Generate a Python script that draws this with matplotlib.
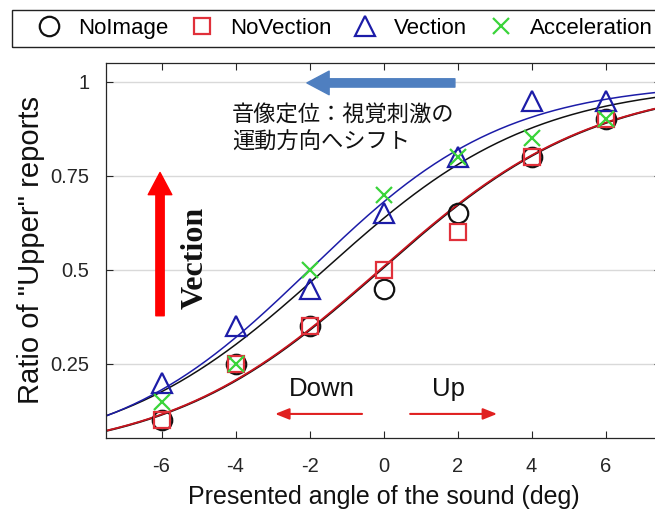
import numpy as np
import matplotlib
matplotlib.use("Agg")
import matplotlib.pyplot as plt
import matplotlib.patches as mpatches
from matplotlib.lines import Line2D

# Presented sound angle (deg) and ratio of "Upper" reports per condition
angles = [-6, -4, -2, 0, 2, 4, 6]
no_image = [0.10, 0.25, 0.35, 0.45, 0.65, 0.80, 0.90]
no_vection = [0.10, 0.25, 0.35, 0.50, 0.60, 0.80, 0.90]
vection = [0.20, 0.35, 0.45, 0.65, 0.80, 0.95, 0.95]
acceleration = [0.15, 0.25, 0.50, 0.70, 0.80, 0.85, 0.90]

# Fitted psychometric curves (logistic): centre and slope
fit_no_image = (-0.07, 2.9)
fit_no_vection = (-0.1, 2.9)
fit_vection = (-2.0, 2.65)
fit_acceleration = (-1.6, 2.85)

yticks = [0.25, 0.5, 0.75, 1]
ytick_labels = ["0.25", "0.5", "0.75", "1"]

plt.rcParams['font.family'] = ['Liberation Sans', 'DejaVu Sans']

BLACK = '#111111'
RED = '#e0303a'
RED_LINE = '#c8141e'
BLUE = '#1c1ca8'
GREEN = '#3ad43a'


def logistic(x, mu, s):
    return 1.0 / (1.0 + np.exp(-(x - mu) / s))


fig = plt.figure(figsize=(6.55, 5.12), dpi=100)
ax = fig.add_axes([106 / 655, 74 / 512, 555 / 655, 375 / 512])

# Fitted curves
xs = np.linspace(-7.5, 7.5, 300)
ax.plot(xs, logistic(xs, *fit_no_image), color=BLACK, lw=1.4, zorder=2)
ax.plot(xs, logistic(xs, *fit_no_vection), color=RED_LINE, lw=1.3, zorder=2)
ax.plot(xs, logistic(xs, *fit_acceleration), color=BLACK, lw=1.1, zorder=2)
ax.plot(xs, logistic(xs, *fit_vection), color=BLUE, lw=1.1, zorder=2)

# Observed data
mk = dict(linestyle='none', markerfacecolor='none', markeredgewidth=1.6, zorder=3)
ax.plot(angles, no_image, marker='o', markersize=14, markeredgecolor=BLACK, **mk)
ax.plot(angles, no_vection, marker='s', markersize=12, markeredgecolor=RED, **mk)
ax.plot(angles, vection, marker='^', markersize=15, markeredgecolor=BLUE, **mk)
ax.plot(angles, acceleration, marker='x', markersize=11, markeredgecolor=GREEN, **mk)

ax.set_xlim(-7.5, 7.5)
ax.set_ylim(0.053, 1.05)
ax.set_xticks(angles)
ax.set_xticklabels([str(a) for a in angles])
ax.set_yticks(yticks)
ax.set_yticklabels(ytick_labels)
ax.yaxis.grid(True, color='#d9d9d9', lw=1.0)
ax.set_axisbelow(True)
ax.tick_params(direction='in', top=True, right=True, length=5, width=0.8,
               labelsize=14.5, colors='#262626')
ax.tick_params(axis='x', pad=14)
ax.tick_params(axis='y', pad=12)
for sp in ax.spines.values():
    sp.set_color('#262626')
    sp.set_linewidth(0.9)

ax.set_xlabel('Presented angle of the sound (deg)', fontsize=18, color='#111111', labelpad=6)
ax.set_ylabel('Ratio of "Upper" reports', fontsize=21, color='#111111', labelpad=4)

# Blue shift arrow and Japanese caption
ax.annotate('', xy=(-2.07, 0.997), xytext=(1.93, 0.997),
            arrowprops=dict(arrowstyle='simple,head_length=16,head_width=17,tail_width=6',
                            mutation_scale=1, color='#4f7fc0', shrinkA=0, shrinkB=0))
ax.text(-4.1, 0.875, '音像定位：視覚刺激の\n運動方向へシフト', fontsize=16,
        family=['Noto Sans CJK JP', 'DejaVu Sans'], ha='left', va='center',
        linespacing=1.2, color='#111111')

# Red vection arrow
ax.annotate('', xy=(-6.04, 0.759), xytext=(-6.04, 0.378),
            arrowprops=dict(arrowstyle='simple,head_length=16,head_width=17,tail_width=6',
                            mutation_scale=1, color='#ff0000', shrinkA=0, shrinkB=0))
ax.text(-5.09, 0.533, 'Vection', rotation=90, fontsize=23, fontweight='bold',
        family=['Liberation Serif', 'DejaVu Serif'], ha='center', va='center', color='#111111')

# Down / Up labels
ax.text(-1.66, 0.183, 'Down', fontsize=18.5, ha='center', va='center', color='#111111')
ax.text(1.77, 0.183, 'Up', fontsize=18.5, ha='center', va='center', color='#111111')
small = dict(arrowstyle='-|>,head_length=0.7,head_width=0.28', mutation_scale=12,
             color='#e02020', lw=1.5, shrinkA=0, shrinkB=0)
ax.annotate('', xy=(-2.93, 0.117), xytext=(-0.58, 0.117), arrowprops=small)
ax.annotate('', xy=(3.07, 0.117), xytext=(0.72, 0.117), arrowprops=small)

# Legend strip at the top
fig.patches.append(mpatches.Rectangle((12 / 655, 1 - 47 / 512), 700 / 655, 37 / 512,
                                      transform=fig.transFigure, fill=False,
                                      edgecolor='#222222', lw=1.0))
handles = [
    Line2D([], [], marker='o', markersize=14, markeredgecolor=BLACK, **mk),
    Line2D([], [], marker='s', markersize=12, markeredgecolor=RED, **mk),
    Line2D([], [], marker='^', markersize=15, markeredgecolor=BLUE, **mk),
    Line2D([], [], marker='x', markersize=11, markeredgecolor=GREEN, **mk),
]
labels = ['NoImage', 'NoVection', 'Vection', 'Acceleration']
fig.legend(handles, labels, loc='center left', bbox_to_anchor=(38 / 655, 1 - 28.5 / 512),
           ncol=4, frameon=False, fontsize=16, handlelength=1.0, handletextpad=0.8,
           columnspacing=1.0, borderpad=0, borderaxespad=0)

fig.savefig('out.png', dpi=100)
